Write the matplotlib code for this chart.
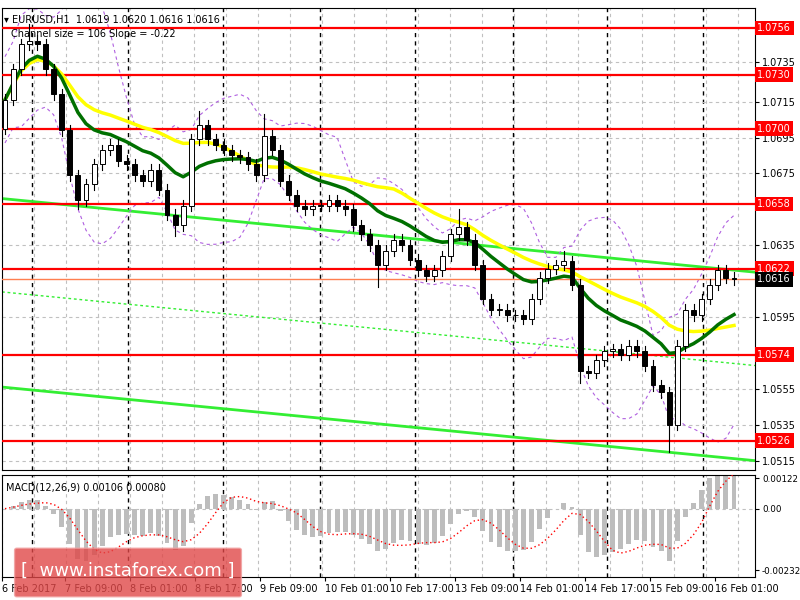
import matplotlib
matplotlib.use('Agg')
import matplotlib.pyplot as plt
from matplotlib.patches import Rectangle, FancyBboxPatch
import numpy as np
import pandas as pd

# closes of the (2 hour) bars
closes = [1.0716, 1.0733, 1.0747, 1.0749, 1.0747, 1.0733, 1.0719, 1.0699, 1.0674, 1.0660,
          1.0669, 1.0680, 1.0688, 1.0691, 1.0682, 1.0680, 1.0674, 1.0671, 1.0677, 1.0666,
          1.0652, 1.0646, 1.0657, 1.0694, 1.0702, 1.0694, 1.0691, 1.0688, 1.0685, 1.0684,
          1.0680, 1.0674, 1.0696, 1.0688, 1.0671, 1.0663, 1.0657, 1.0655, 1.0657, 1.0657,
          1.0660, 1.0657, 1.0655, 1.0646, 1.0641, 1.0635, 1.0624, 1.0632, 1.0638, 1.0635,
          1.0627, 1.0621, 1.0618, 1.0621, 1.0629, 1.0641, 1.0645, 1.0638, 1.0624, 1.0605,
          1.0599, 1.0599, 1.0596, 1.0596, 1.0594, 1.0605, 1.0617, 1.0622, 1.0624, 1.0626,
          1.0613, 1.0565, 1.0564, 1.0571, 1.0576, 1.0577, 1.0574, 1.0579, 1.0576, 1.0568,
          1.0557, 1.0553, 1.0535, 1.0579, 1.0599, 1.0596, 1.0605, 1.0613, 1.0621, 1.0617,
          1.0616]
first_open = 1.0700
# a few long wicks
low_wicks = {82: 1.0520, 9: 1.0655, 21: 1.0640, 46: 1.0612, 71: 1.0558}
high_wicks = {3: 1.0758, 24: 1.0710, 32: 1.0708, 56: 1.0655, 69: 1.0632, 89: 1.0624}

levels = [1.0756, 1.0730, 1.0700, 1.0658, 1.0622, 1.0574, 1.0526]
last_price = 1.0616
price_ticks = [1.0515, 1.0535, 1.0555, 1.0595, 1.0635, 1.0675,
               1.0695, 1.0715, 1.0737]
# channel lines (start price, end price)
channel_top = (1.0661, 1.0620)
channel_mid = (1.0609, 1.0568)
channel_bot = (1.0556, 1.0515)

time_labels = ['6 Feb 2017', '7 Feb 09:00', '8 Feb 01:00', '8 Feb 17:00', '9 Feb 09:00',
               '10 Feb 01:00', '10 Feb 17:00', '13 Feb 09:00', '14 Feb 01:00', '14 Feb 17:00',
               '15 Feb 09:00', '16 Feb 01:00']
label_px = [2, 65, 130, 195, 260, 325, 390, 455, 520, 585, 650, 715]
day_px = [32, 128, 223, 320, 415, 513, 607, 703]

def px2x(p):
    return (p - 5) / 8.1

n = len(closes)
xs = np.arange(n)
c = np.array(closes)
o = np.concatenate([[first_open], c[:-1]])
hi = np.maximum(o, c) + 0.0003
lo = np.minimum(o, c) - 0.0003
for k, v in low_wicks.items():
    lo[k] = v
for k, v in high_wicks.items():
    hi[k] = v

s = pd.Series(c)
ma_fast = s.ewm(span=16).mean()
ma_slow = s.rolling(26, min_periods=1).mean()
bb_mid = s.rolling(10, min_periods=1).mean()
bb_std = s.rolling(10, min_periods=2).std().bfill()
macd = s.ewm(span=6).mean() - s.ewm(span=13).mean()
signal = macd.rolling(5, min_periods=1).mean()

fig = plt.figure(figsize=(8, 6), dpi=100)
ax = fig.add_axes([0.0025, 1 - 470 / 600, 753 / 800, 462 / 600])
ax2 = fig.add_axes([0.0025, 1 - 577 / 600, 753 / 800, 102 / 600])
xmin, xmax = px2x(2), px2x(755)

for a in (ax, ax2):
    a.set_xlim(xmin, xmax)
    for gp in range(2, 755, 32):
        a.axvline(px2x(gp), color='#c0c0c0', ls=(0, (3, 3)), lw=0.8, zorder=0)
    for dp in day_px:
        a.axvline(px2x(dp), color='black', ls=(0, (3, 3)), lw=1.0, zorder=0)
    a.yaxis.tick_right()
    a.tick_params(axis='y', labelsize=7, length=3, pad=2)
    for sp in a.spines.values():
        sp.set_color('black')

ax.set_ylim(1.0756 - (470 - 28) * 0.0000557, 1.0756 + 20 * 0.0000557)
ax.set_yticks(price_ticks)
ax.set_yticklabels(['%.4f' % t if t != 1.0737 else '1.0735' for t in price_ticks])
for t in price_ticks:
    ax.axhline(t, color='#c0c0c0', ls=(0, (3, 3)), lw=0.8, zorder=0)
ax.set_xticks([])

# channel
for (p0, p1), style, w in [(channel_top, '-', 2), (channel_bot, '-', 2), (channel_mid, (0, (2, 2)), 1)]:
    ax.plot([xmin, xmax], [p0, p1], color='#33ee33', ls=style, lw=w, zorder=2)

# levels
for lv in levels:
    ax.axhline(lv, color='#ff0000', lw=1.6, zorder=3)
    ax.text(1.003, lv, '%.4f' % lv, transform=ax.get_yaxis_transform(), va='center', ha='left',
            fontsize=7, color='white', bbox=dict(boxstyle='square,pad=0.25', fc='#ff0000', ec='none'),
            zorder=10, clip_on=False)
ax.axhline(last_price, color='#ff7f50', lw=1, zorder=3)
ax.text(1.003, last_price, '%.4f' % last_price, transform=ax.get_yaxis_transform(), va='center',
        ha='left', fontsize=7, color='white', bbox=dict(boxstyle='square,pad=0.25', fc='black', ec='none'),
        zorder=10, clip_on=False)

# indicators
ax.plot(xs, bb_mid + 2 * bb_std, color='#b060e0', ls=(0, (3, 3)), lw=0.8, zorder=2)
ax.plot(xs, bb_mid - 2 * bb_std, color='#b060e0', ls=(0, (3, 3)), lw=0.8, zorder=2)
ax.plot(xs, ma_slow, color='#ffff00', lw=2.5, zorder=4)
ax.plot(xs, ma_fast, color='#007000', lw=2.5, zorder=4)

# candles
for i in range(n):
    ax.plot([i, i], [lo[i], hi[i]], color='black', lw=0.8, zorder=5)
    bottom = min(o[i], c[i])
    h = max(abs(c[i] - o[i]), 0.00004)
    fc = 'white' if c[i] >= o[i] else 'black'
    ax.add_patch(Rectangle((i - 0.3, bottom), 0.6, h, fc=fc, ec='black', lw=0.7, zorder=6))

ax.text(0.003, 0.985, '\u25be EURUSD,H1  1.0619 1.0620 1.0616 1.0616', transform=ax.transAxes,
        fontsize=7, va='top')
ax.text(0.012, 0.955, 'Channel size = 106 Slope = -0.22', transform=ax.transAxes, fontsize=7, va='top')

# MACD
ax2.bar(xs, macd, width=0.6, color='#bdbdbd', zorder=2)
ax2.plot(xs, signal, color='red', ls=(0, (1, 2)), lw=1, zorder=3)
ax2.axhline(0, color='#c0c0c0', ls=(0, (3, 3)), lw=0.8)
m_lo = -np.abs(macd).max() * 1.3
m_hi = -m_lo * 33 / 67
ax2.set_ylim(m_lo, m_hi)
ax2.set_yticks([m_hi * 0.9, 0, m_lo * 0.9])
ax2.set_yticklabels(['0.00122', '0.00', '-0.00232'], fontsize=6.3)
ax2.set_xticks([px2x(p) for p in label_px])
ax2.set_xticklabels(time_labels, fontsize=7, ha='left')
ax2.tick_params(axis='x', length=3, pad=2)
ax2.text(0.005, 0.93, 'MACD(12,26,9) 0.00106 0.00080', transform=ax2.transAxes, fontsize=7, va='top')

# watermark
fig.patches.append(FancyBboxPatch((17 / 800, 1 - 595 / 600), 222 / 800, 45 / 600,
                                  boxstyle='round,pad=0.003', transform=fig.transFigure,
                                  fc='#e04848', ec='#f0a0a0', alpha=0.8, zorder=20))
fig.text(128 / 800, 1 - 571 / 600, '[  www.instaforex.com ]', color='white', fontsize=13,
         ha='center', va='center', zorder=21)

fig.savefig('out.png', dpi=100)
